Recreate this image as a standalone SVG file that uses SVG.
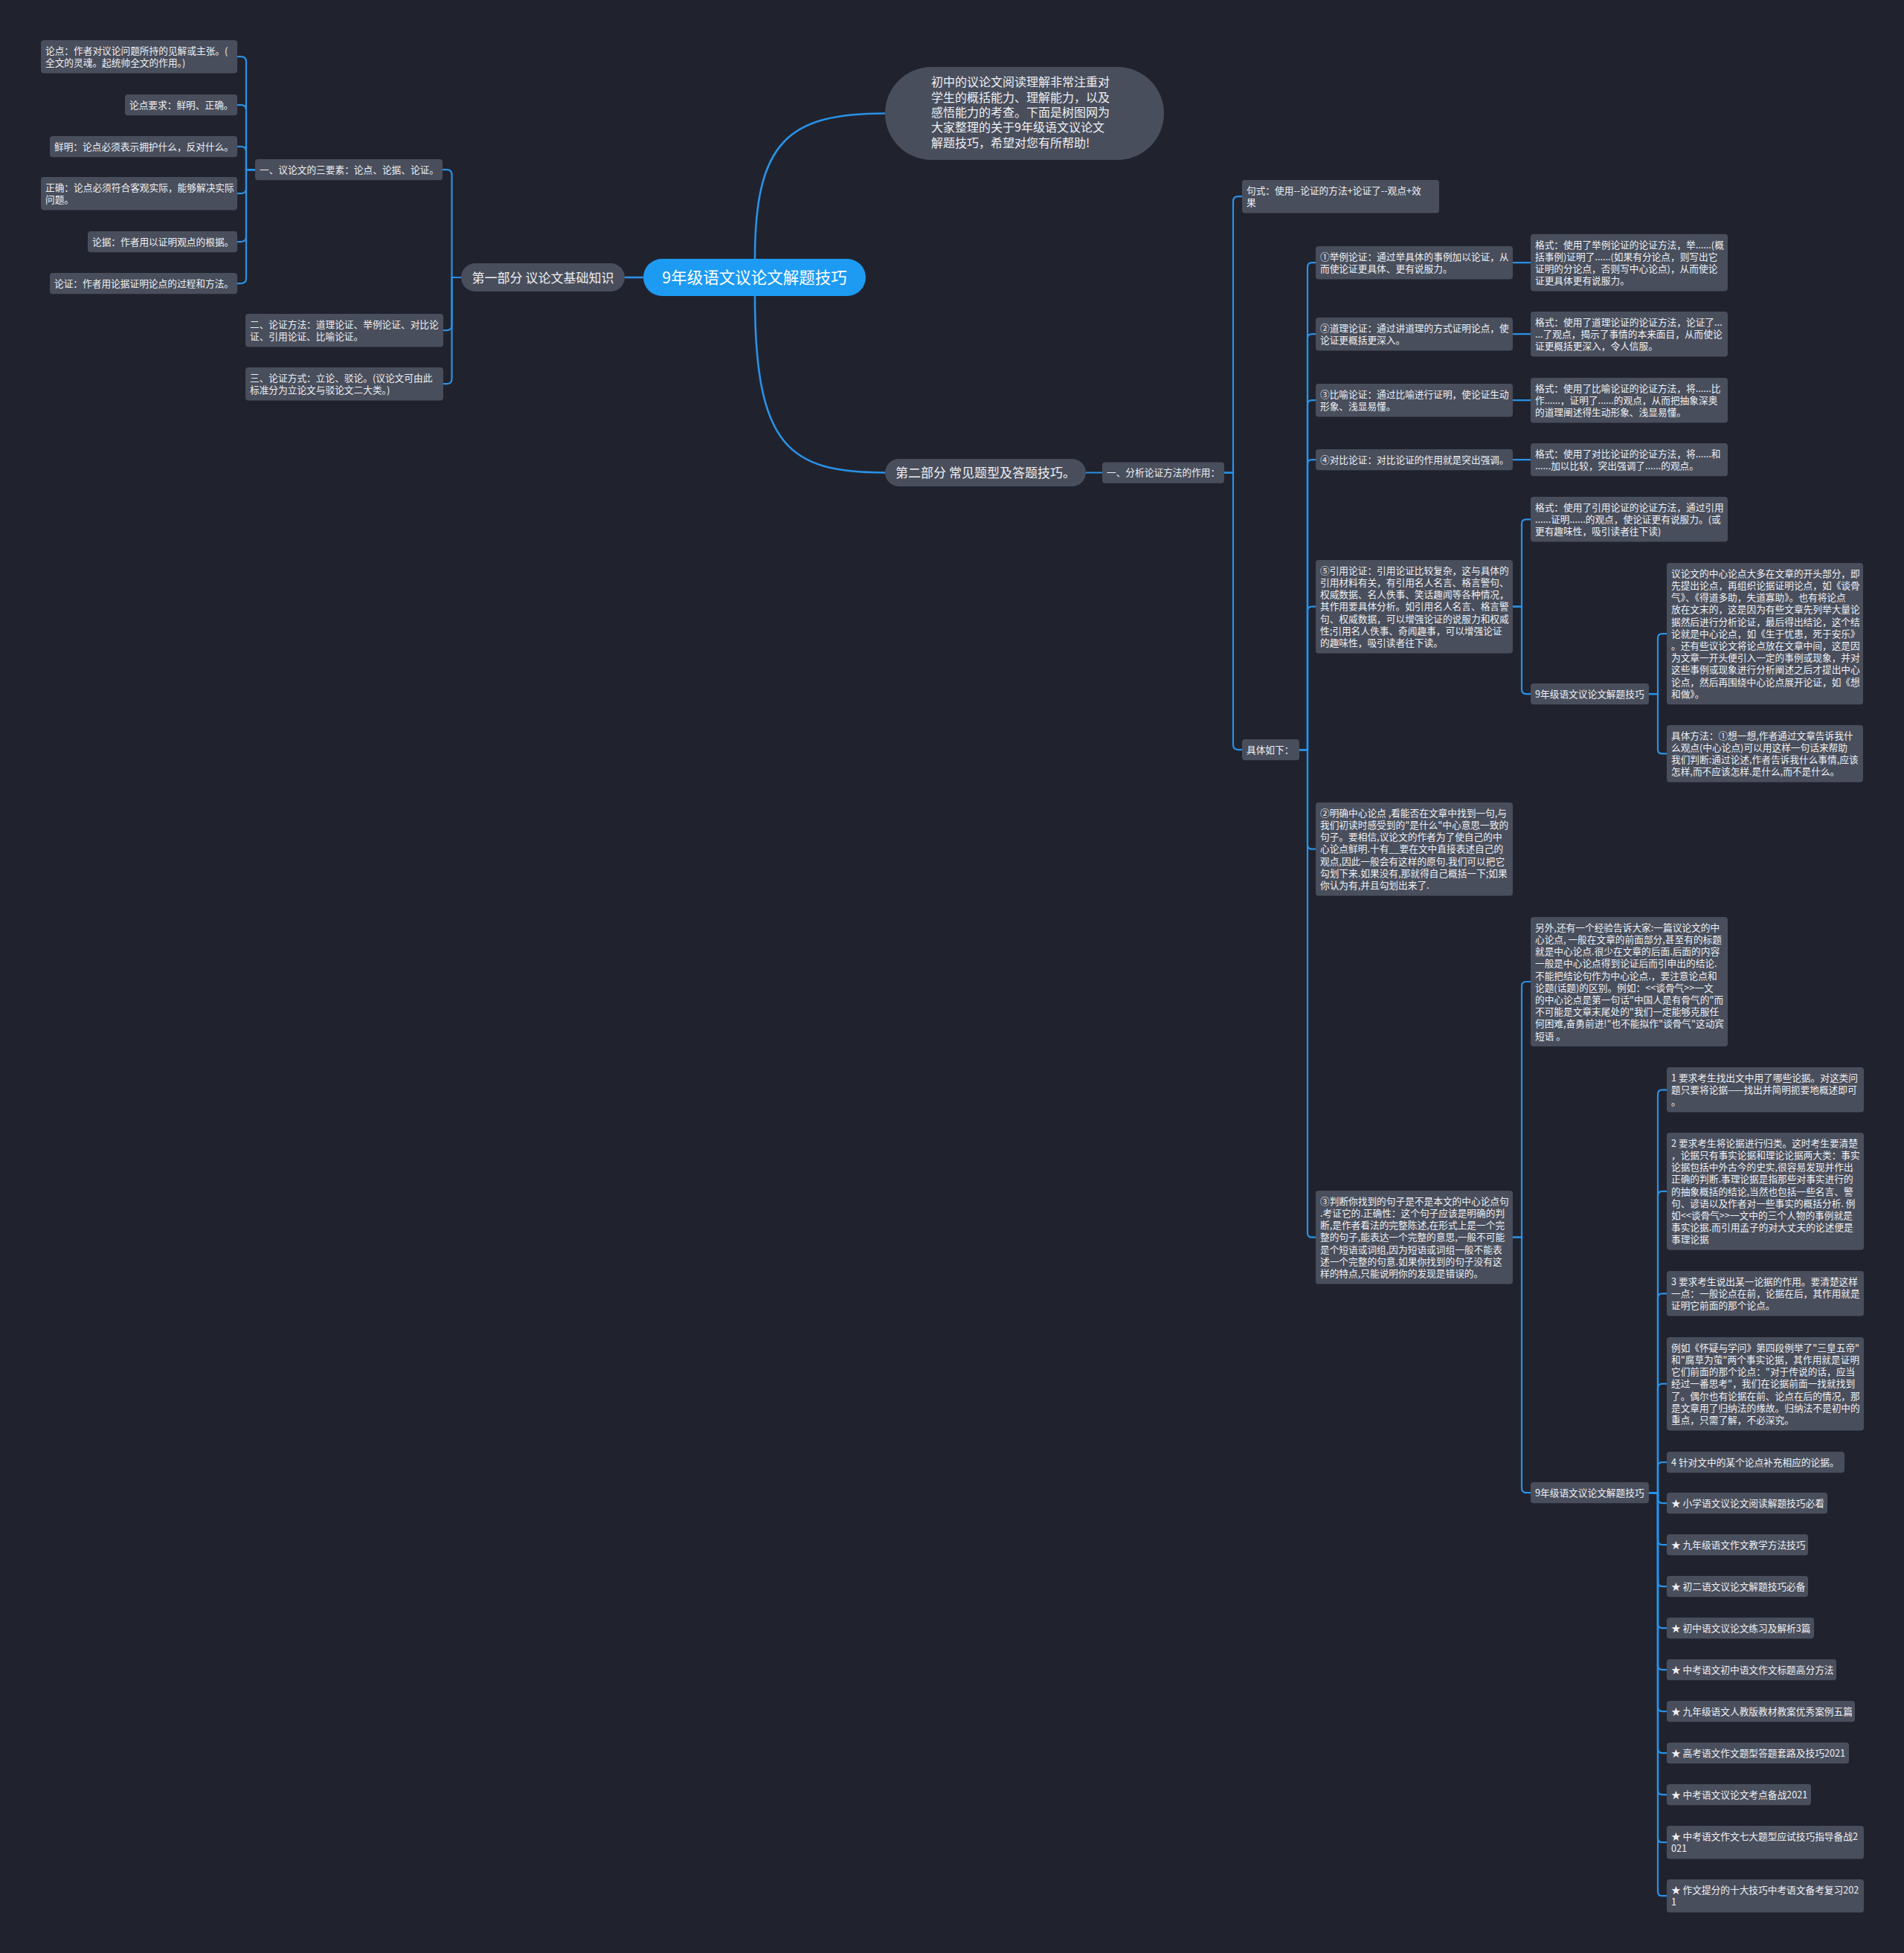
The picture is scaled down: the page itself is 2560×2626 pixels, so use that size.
<svg xmlns="http://www.w3.org/2000/svg" width="2560" height="2626" viewBox="0 0 2560 2626">
<style>
.bg{fill:#20232e}
.nd{fill:#494e5c}
.tx{font-family:"Noto Sans CJK SC","Noto Sans",sans-serif;font-size:12.7px;fill:#eef0f3}
.big{font-size:17px}
.ln{fill:none;stroke:#2a91e6;stroke-width:2.2;stroke-linecap:round}
.rl{fill:none;stroke:#2a91e6;stroke-width:2.6}
</style>
<rect class="bg" x="0" y="0" width="2560" height="2626"/>
<g id="connectors">
<path class="rl" d="M1015,348 C1015,190 1060,152.5 1190,152.5"/>
<path class="rl" d="M1015,398 C1015,600 1060,635.5 1190,635.5"/>
<path class="rl" d="M865,373 H840"/>
<path class="ln" d="M620,373 H607.5 V235.1 Q607.5,228.1 600.5,228.1 H595"/>
<path class="ln" d="M620,373 H607.5 V437.2 Q607.5,444.2 600.5,444.2 H596"/>
<path class="ln" d="M620,373 H607.5 V509.2 Q607.5,516.2 600.5,516.2 H596"/>
<path class="ln" d="M343,228.1 H331 V83.2 Q331,76.2 324,76.2 H319"/>
<path class="ln" d="M343,228.1 H331 V148.1 Q331,141.1 324,141.1 H319"/>
<path class="ln" d="M343,228.1 H331 V204.1 Q331,197.1 324,197.1 H319"/>
<path class="ln" d="M343,228.1 H331 V253.2 Q331,260.2 324,260.2 H319"/>
<path class="ln" d="M343,228.1 H331 V318.1 Q331,325.1 324,325.1 H319"/>
<path class="ln" d="M343,228.1 H331 V374.1 Q331,381.1 324,381.1 H319"/>
<path class="ln" d="M1460,635.5 H1482"/>
<path class="ln" d="M1646,635.6 H1658 V271.2 Q1658,264.2 1665,264.2 H1670"/>
<path class="ln" d="M1646,635.6 H1658 V1001.1 Q1658,1008.1 1665,1008.1 H1670"/>
<path class="ln" d="M1747,1008.1 H1758 V359.2 Q1758,353.2 1764,353.2 H1769"/>
<path class="ln" d="M1747,1008.1 H1758 V455.2 Q1758,449.2 1764,449.2 H1769"/>
<path class="ln" d="M1747,1008.1 H1758 V544.2 Q1758,538.2 1764,538.2 H1769"/>
<path class="ln" d="M1747,1008.1 H1758 V624.1 Q1758,618.1 1764,618.1 H1769"/>
<path class="ln" d="M1747,1008.1 H1758 V821.7 Q1758,815.7 1764,815.7 H1769"/>
<path class="ln" d="M1747,1008.1 H1758 V1135.7 Q1758,1141.7 1764,1141.7 H1769"/>
<path class="ln" d="M1747,1008.1 H1758 V1657.7 Q1758,1663.7 1764,1663.7 H1769"/>
<path class="ln" d="M2034,353.2 H2058"/>
<path class="ln" d="M2034,449.2 H2058"/>
<path class="ln" d="M2034,538.2 H2058"/>
<path class="ln" d="M2034,618.1 H2058"/>
<path class="ln" d="M2034,815.7 H2046 V704.3 Q2046,698.3 2052,698.3 H2058"/>
<path class="ln" d="M2034,815.7 H2046 V927.1 Q2046,933.1 2052,933.1 H2058"/>
<path class="ln" d="M2217,933.1 H2229 V858.1 Q2229,852.1 2235,852.1 H2241"/>
<path class="ln" d="M2217,933.1 H2229 V1007.4 Q2229,1013.4 2235,1013.4 H2241"/>
<path class="ln" d="M2034,1663.7 H2046 V1326 Q2046,1320 2052,1320 H2058"/>
<path class="ln" d="M2034,1663.7 H2046 V2001.1 Q2046,2007.1 2052,2007.1 H2058"/>
<path class="ln" d="M2217,2007.1 H2229 V1471.3 Q2229,1465.3 2235,1465.3 H2241"/>
<path class="ln" d="M2217,2007.1 H2229 V1607.9 Q2229,1601.9 2235,1601.9 H2241"/>
<path class="ln" d="M2217,2007.1 H2229 V1745.3 Q2229,1739.3 2235,1739.3 H2241"/>
<path class="ln" d="M2217,2007.1 H2229 V1866.7 Q2229,1860.7 2235,1860.7 H2241"/>
<path class="ln" d="M2217,2007.1 H2229 V1972.1 Q2229,1966.1 2235,1966.1 H2241"/>
<path class="ln" d="M2217,2007.1 H2229 V2015.1 Q2229,2021.1 2235,2021.1 H2241"/>
<path class="ln" d="M2217,2007.1 H2229 V2071.1 Q2229,2077.1 2235,2077.1 H2241"/>
<path class="ln" d="M2217,2007.1 H2229 V2127.1 Q2229,2133.1 2235,2133.1 H2241"/>
<path class="ln" d="M2217,2007.1 H2229 V2183.1 Q2229,2189.1 2235,2189.1 H2241"/>
<path class="ln" d="M2217,2007.1 H2229 V2239.1 Q2229,2245.1 2235,2245.1 H2241"/>
<path class="ln" d="M2217,2007.1 H2229 V2295.1 Q2229,2301.1 2235,2301.1 H2241"/>
<path class="ln" d="M2217,2007.1 H2229 V2351.1 Q2229,2357.1 2235,2357.1 H2241"/>
<path class="ln" d="M2217,2007.1 H2229 V2407.1 Q2229,2413.1 2235,2413.1 H2241"/>
<path class="ln" d="M2217,2007.1 H2229 V2471.2 Q2229,2477.2 2235,2477.2 H2241"/>
<path class="ln" d="M2217,2007.1 H2229 V2543.2 Q2229,2549.2 2235,2549.2 H2241"/>
</g>

<g id="root"><rect x="865" y="348" width="299" height="50" rx="25" fill="#1d9bf2"/><text class="tx" x="1014.5" y="381" text-anchor="middle" style="font-size:21.5px;fill:#ffffff">9年级语文议论文解题技巧</text></g>

<g id="intro"><rect class="nd" x="1190" y="90" width="375" height="125" rx="62.5"/><text class="tx" style="font-size:16px"><tspan x="1252" y="116">初中的议论文阅读理解非常注重对</tspan><tspan x="1252" y="136.5">学生的概括能力、理解能力，以及</tspan><tspan x="1252" y="157">感悟能力的考查。下面是树图网为</tspan><tspan x="1252" y="177.4">大家整理的关于9年级语文议论文</tspan><tspan x="1252" y="197.8">解题技巧，希望对您有所帮助!</tspan></text></g>

<g id="part1"><rect class="nd" x="620" y="354" width="220" height="38" rx="19"/><text class="tx big" x="730" y="379.5" text-anchor="middle">第一部分 议论文基础知识</text></g>
<g id="part2"><rect class="nd" x="1190" y="617" width="270" height="37" rx="18.5"/><text class="tx big" x="1325" y="641.5" text-anchor="middle">第二部分 常见题型及答题技巧。</text></g>

<g id="n-sanyaosu"><rect class="nd" x="343" y="214" width="252" height="28.2" rx="4"/><text class="tx" x="349" y="232.7">一、议论文的三要素：论点、论据、论证。</text></g>
<g id="n-fangfa"><rect class="nd" x="330" y="422" width="266" height="44.4" rx="4"/><text class="tx"><tspan x="336" y="440.7">二、论证方法：道理论证、举例论证、对比论</tspan><tspan x="336" y="456.9">证、引用论证、比喻论证。</tspan></text></g>
<g id="n-fangshi"><rect class="nd" x="330" y="494" width="266" height="44.4" rx="4"/><text class="tx"><tspan x="336" y="512.7">三、论证方式：立论、驳论。(议论文可由此</tspan><tspan x="336" y="528.9">标准分为立论文与驳论文二大类。)</tspan></text></g>

<g id="l1"><rect class="nd" x="55" y="54" width="264" height="44.4" rx="4"/><text class="tx"><tspan x="61" y="72.7">论点：作者对议论问题所持的见解或主张。(</tspan><tspan x="61" y="88.9">全文的灵魂。起统帅全文的作用。)</tspan></text></g>
<g id="l2"><rect class="nd" x="168" y="127" width="151" height="28.2" rx="4"/><text class="tx" x="174" y="145.7">论点要求：鲜明、正确。</text></g>
<g id="l3"><rect class="nd" x="67" y="183" width="252" height="28.2" rx="4"/><text class="tx" x="73" y="201.7">鲜明：论点必须表示拥护什么，反对什么。</text></g>
<g id="l4"><rect class="nd" x="55" y="238" width="264" height="44.4" rx="4"/><text class="tx"><tspan x="61" y="256.7">正确：论点必须符合客观实际，能够解决实际</tspan><tspan x="61" y="272.9">问题。</tspan></text></g>
<g id="l5"><rect class="nd" x="118" y="311" width="201" height="28.2" rx="4"/><text class="tx" x="124" y="329.7">论据：作者用以证明观点的根据。</text></g>
<g id="l6"><rect class="nd" x="67" y="367" width="252" height="28.2" rx="4"/><text class="tx" x="73" y="385.7">论证：作者用论据证明论点的过程和方法。</text></g>

<g id="n-fenxi"><rect class="nd" x="1482" y="621.5" width="164" height="28.2" rx="4"/><text class="tx" x="1488" y="640.2">一、分析论证方法的作用：</text></g>
<g id="n-jushi"><rect class="nd" x="1670" y="242" width="265" height="44.4" rx="4"/><text class="tx"><tspan x="1676" y="260.7">句式：使用--论证的方法+论证了--观点+效</tspan><tspan x="1676" y="276.9">果</tspan></text></g>
<g id="n-juti"><rect class="nd" x="1670" y="994" width="77" height="28.2" rx="4"/><text class="tx" x="1676" y="1012.7">具体如下：</text></g>

<g id="m1"><rect class="nd" x="1769" y="331" width="265" height="44.4" rx="4"/><text class="tx"><tspan x="1775" y="349.7">①举例论证：通过举具体的事例加以论证，从</tspan><tspan x="1775" y="365.9">而使论证更具体、更有说服力。</tspan></text></g>
<g id="f1"><rect class="nd" x="2058" y="314.8" width="265" height="76.8" rx="4"/><text class="tx"><tspan x="2064" y="333.5">格式：使用了举例论证的论证方法，举......(概</tspan><tspan x="2064" y="349.7">括事例)证明了......(如果有分论点，则写出它</tspan><tspan x="2064" y="365.9">证明的分论点，否则写中心论点)，从而使论</tspan><tspan x="2064" y="382.1">证更具体更有说服力。</tspan></text></g>
<g id="m2"><rect class="nd" x="1769" y="427" width="265" height="44.4" rx="4"/><text class="tx"><tspan x="1775" y="445.7">②道理论证：通过讲道理的方式证明论点，使</tspan><tspan x="1775" y="461.9">论证更概括更深入。</tspan></text></g>
<g id="f2"><rect class="nd" x="2058" y="418.9" width="265" height="60.6" rx="4"/><text class="tx"><tspan x="2064" y="437.6">格式：使用了道理论证的论证方法，论证了...</tspan><tspan x="2064" y="453.8">...了观点，揭示了事情的本来面目，从而使论</tspan><tspan x="2064" y="470">证更概括更深入，令人信服。</tspan></text></g>
<g id="m3"><rect class="nd" x="1769" y="516" width="265" height="44.4" rx="4"/><text class="tx"><tspan x="1775" y="534.7">③比喻论证：通过比喻进行证明，使论证生动</tspan><tspan x="1775" y="550.9">形象、浅显易懂。</tspan></text></g>
<g id="f3"><rect class="nd" x="2058" y="507.9" width="265" height="60.6" rx="4"/><text class="tx"><tspan x="2064" y="526.6">格式：使用了比喻论证的论证方法，将......比</tspan><tspan x="2064" y="542.8">作......，证明了......的观点，从而把抽象深奥</tspan><tspan x="2064" y="559">的道理阐述得生动形象、浅显易懂。</tspan></text></g>
<g id="m4"><rect class="nd" x="1769" y="604" width="265" height="28.2" rx="4"/><text class="tx" x="1775" y="622.7">④对比论证：对比论证的作用就是突出强调。</text></g>
<g id="f4"><rect class="nd" x="2058" y="595.9" width="265" height="44.4" rx="4"/><text class="tx"><tspan x="2064" y="614.6">格式：使用了对比论证的论证方法，将......和</tspan><tspan x="2064" y="630.8">......加以比较，突出强调了......的观点。</tspan></text></g>
<g id="f5"><rect class="nd" x="2058" y="668" width="265" height="60.6" rx="4"/><text class="tx"><tspan x="2064" y="686.7">格式：使用了引用论证的论证方法，通过引用</tspan><tspan x="2064" y="702.9">......证明......的观点，使论证更有说服力。(或</tspan><tspan x="2064" y="719.1">更有趣味性，吸引读者往下读)</tspan></text></g>
<g id="m5"><rect class="nd" x="1769" y="753" width="265" height="125.4" rx="4"/><text class="tx"><tspan x="1775" y="771.7">⑤引用论证：引用论证比较复杂，这与具体的</tspan><tspan x="1775" y="787.9">引用材料有关，有引用名人名言、格言警句、</tspan><tspan x="1775" y="804.1">权威数据、名人佚事、笑话趣闻等各种情况，</tspan><tspan x="1775" y="820.3">其作用要具体分析。如引用名人名言、格言警</tspan><tspan x="1775" y="836.5">句、权威数据，可以增强论证的说服力和权威</tspan><tspan x="1775" y="852.7">性;引用名人佚事、奇闻趣事，可以增强论证</tspan><tspan x="1775" y="868.9">的趣味性，吸引读者往下读。</tspan></text></g>
<g id="sub1"><rect class="nd" x="2058" y="919" width="159" height="28.2" rx="4"/><text class="tx" x="2064" y="937.7">9年级语文议论文解题技巧</text></g>
<g id="zx"><rect class="nd" x="2241" y="757" width="264" height="190.2" rx="4"/><text class="tx"><tspan x="2247" y="775.7">议论文的中心论点大多在文章的开头部分，即</tspan><tspan x="2247" y="791.9">先提出论点，再组织论据证明论点，如《谈骨</tspan><tspan x="2247" y="808.1">气》、《得道多助，失道寡助》。也有将论点</tspan><tspan x="2247" y="824.3">放在文末的，这是因为有些文章先列举大量论</tspan><tspan x="2247" y="840.5">据然后进行分析论证，最后得出结论，这个结</tspan><tspan x="2247" y="856.7">论就是中心论点，如《生于忧患，死于安乐》</tspan><tspan x="2247" y="872.9">。还有些议论文将论点放在文章中间，这是因</tspan><tspan x="2247" y="889.1">为文章一开头便引入一定的事例或现象，并对</tspan><tspan x="2247" y="905.3">这些事例或现象进行分析阐述之后才提出中心</tspan><tspan x="2247" y="921.5">论点，然后再围绕中心论点展开论证，如《想</tspan><tspan x="2247" y="937.7">和做》。</tspan></text></g>
<g id="jtff"><rect class="nd" x="2241" y="975" width="264" height="76.8" rx="4"/><text class="tx"><tspan x="2247" y="993.7">具体方法：①想一想,作者通过文章告诉我什</tspan><tspan x="2247" y="1009.9">么观点(中心论点)可以用这样一句话来帮助</tspan><tspan x="2247" y="1026.1">我们判断:通过论述,作者告诉我什么事情,应该</tspan><tspan x="2247" y="1042.3">怎样,而不应该怎样.是什么,而不是什么。</tspan></text></g>
<g id="mq"><rect class="nd" x="1769" y="1079" width="265" height="125.4" rx="4"/><text class="tx"><tspan x="1775" y="1097.7">②明确中心论点 ,看能否在文章中找到一句,与</tspan><tspan x="1775" y="1113.9">我们初读时感受到的"是什么"中心意思一致的</tspan><tspan x="1775" y="1130.1">句子。要相信,议论文的作者为了使自己的中</tspan><tspan x="1775" y="1146.3">心论点鲜明.十有__要在文中直接表述自己的</tspan><tspan x="1775" y="1162.5">观点,因此一般会有这样的原句.我们可以把它</tspan><tspan x="1775" y="1178.7">勾划下来.如果没有,那就得自己概括一下;如果</tspan><tspan x="1775" y="1194.9">你认为有,并且勾划出来了.</tspan></text></g>
<g id="lw"><rect class="nd" x="2058" y="1233" width="265" height="174" rx="4"/><text class="tx"><tspan x="2064" y="1251.7">另外,还有一个经验告诉大家:一篇议论文的中</tspan><tspan x="2064" y="1267.9">心论点, 一般在文章的前面部分,甚至有的标题</tspan><tspan x="2064" y="1284.1">就是中心论点.很少在文章的后面.后面的内容</tspan><tspan x="2064" y="1300.3">一般是中心论点得到论证后而引申出的结论.</tspan><tspan x="2064" y="1316.5">不能把结论句作为中心论点.，要注意论点和</tspan><tspan x="2064" y="1332.7">论题(话题)的区别。例如：&lt;&lt;谈骨气&gt;&gt;一文</tspan><tspan x="2064" y="1348.9">的中心论点是第一句话"中国人是有骨气的"而</tspan><tspan x="2064" y="1365.1">不可能是文章末尾处的"我们一定能够克服任</tspan><tspan x="2064" y="1381.3">何困难,奋勇前进!"也不能拟作"谈骨气"这动宾</tspan><tspan x="2064" y="1397.5">短语 。</tspan></text></g>
<g id="pd"><rect class="nd" x="1769" y="1601" width="265" height="125.4" rx="4"/><text class="tx"><tspan x="1775" y="1619.7">③判断你找到的句子是不是本文的中心论点句</tspan><tspan x="1775" y="1635.9">.考证它的.正确性：这个句子应该是明确的判</tspan><tspan x="1775" y="1652.1">断,是作者看法的完整陈述,在形式上是一个完</tspan><tspan x="1775" y="1668.3">整的句子,能表达一个完整的意思,一般不可能</tspan><tspan x="1775" y="1684.5">是个短语或词组,因为短语或词组一般不能表</tspan><tspan x="1775" y="1700.7">述一个完整的句意.如果你找到的句子没有这</tspan><tspan x="1775" y="1716.9">样的特点,只能说明你的发现是错误的。</tspan></text></g>
<g id="sub2"><rect class="nd" x="2058" y="1993" width="159" height="28.2" rx="4"/><text class="tx" x="2064" y="2011.7">9年级语文议论文解题技巧</text></g>
<g id="q1"><rect class="nd" x="2241" y="1435" width="265" height="60.6" rx="4"/><text class="tx"><tspan x="2247" y="1453.7">1 要求考生找出文中用了哪些论据。对这类问</tspan><tspan x="2247" y="1469.9">题只要将论据——找出并简明扼要地概述即可</tspan><tspan x="2247" y="1486.1">。</tspan></text></g>
<g id="q2"><rect class="nd" x="2241" y="1523" width="265" height="157.8" rx="4"/><text class="tx"><tspan x="2247" y="1541.7">2 要求考生将论据进行归类。这时考生要清楚</tspan><tspan x="2247" y="1557.9">，论据只有事实论据和理论论据两大类：事实</tspan><tspan x="2247" y="1574.1">论据包括中外古今的史实,很容易发现并作出</tspan><tspan x="2247" y="1590.3">正确的判断.事理论据是指那些对事实进行的</tspan><tspan x="2247" y="1606.5">的抽象概括的结论,当然也包括一些名言、警</tspan><tspan x="2247" y="1622.7">句、谚语以及作者对一些事实的概括分析. 例</tspan><tspan x="2247" y="1638.9">如&lt;&lt;谈骨气&gt;&gt;一文中的三个人物的事例就是</tspan><tspan x="2247" y="1655.1">事实论据.而引用孟子的对大丈夫的论述便是</tspan><tspan x="2247" y="1671.3">事理论据</tspan></text></g>
<g id="q3"><rect class="nd" x="2241" y="1709" width="265" height="60.6" rx="4"/><text class="tx"><tspan x="2247" y="1727.7">3 要求考生说出某一论据的作用。要清楚这样</tspan><tspan x="2247" y="1743.9">一点：一般论点在前，论据在后，其作用就是</tspan><tspan x="2247" y="1760.1">证明它前面的那个论点。</tspan></text></g>
<g id="q3e"><rect class="nd" x="2241" y="1798" width="265" height="125.4" rx="4"/><text class="tx"><tspan x="2247" y="1816.7">例如《怀疑与学问》第四段例举了"三皇五帝"</tspan><tspan x="2247" y="1832.9">和"腐草为萤"两个事实论据，其作用就是证明</tspan><tspan x="2247" y="1849.1">它们前面的那个论点："对于传说的话，应当</tspan><tspan x="2247" y="1865.3">经过一番思考"，我们在论据前面一找就找到</tspan><tspan x="2247" y="1881.5">了。偶尔也有论据在前、论点在后的情况，那</tspan><tspan x="2247" y="1897.7">是文章用了归纳法的缘故。归纳法不是初中的</tspan><tspan x="2247" y="1913.9">重点，只需了解，不必深究。</tspan></text></g>
<g id="q4"><rect class="nd" x="2241" y="1952" width="239" height="28.2" rx="4"/><text class="tx" x="2247" y="1970.7">4 针对文中的某个论点补充相应的论据。</text></g>
<g id="s1"><rect class="nd" x="2241" y="2007" width="216" height="28.2" rx="4"/><text class="tx" x="2247" y="2025.7">★ 小学语文议论文阅读解题技巧必看</text></g>
<g id="s2"><rect class="nd" x="2241" y="2063" width="190" height="28.2" rx="4"/><text class="tx" x="2247" y="2081.7">★ 九年级语文作文教学方法技巧</text></g>
<g id="s3"><rect class="nd" x="2241" y="2119" width="190" height="28.2" rx="4"/><text class="tx" x="2247" y="2137.7">★ 初二语文议论文解题技巧必备</text></g>
<g id="s4"><rect class="nd" x="2241" y="2175" width="198" height="28.2" rx="4"/><text class="tx" x="2247" y="2193.7">★ 初中语文议论文练习及解析3篇</text></g>
<g id="s5"><rect class="nd" x="2241" y="2231" width="228" height="28.2" rx="4"/><text class="tx" x="2247" y="2249.7">★ 中考语文初中语文作文标题高分方法</text></g>
<g id="s6"><rect class="nd" x="2241" y="2287" width="253" height="28.2" rx="4"/><text class="tx" x="2247" y="2305.7">★ 九年级语文人教版教材教案优秀案例五篇</text></g>
<g id="s7"><rect class="nd" x="2241" y="2343" width="245" height="28.2" rx="4"/><text class="tx" x="2247" y="2361.7">★ 高考语文作文题型答题套路及技巧2021</text></g>
<g id="s8"><rect class="nd" x="2241" y="2399" width="194" height="28.2" rx="4"/><text class="tx" x="2247" y="2417.7">★ 中考语文议论文考点备战2021</text></g>
<g id="s9"><rect class="nd" x="2241" y="2455" width="265" height="44.4" rx="4"/><text class="tx"><tspan x="2247" y="2473.7">★ 中考语文作文七大题型应试技巧指导备战2</tspan><tspan x="2247" y="2489.9">021</tspan></text></g>
<g id="s10"><rect class="nd" x="2241" y="2527" width="265" height="44.4" rx="4"/><text class="tx"><tspan x="2247" y="2545.7">★ 作文提分的十大技巧中考语文备考复习202</tspan><tspan x="2247" y="2561.9">1</tspan></text></g>
</svg>
